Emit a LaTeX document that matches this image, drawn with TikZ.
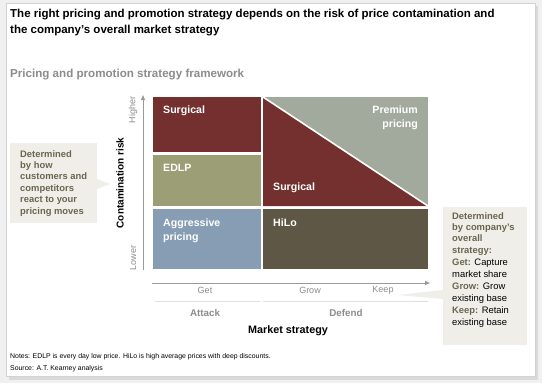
\documentclass[tikz,border=0pt]{standalone}
\usepackage{fontspec}
\setmainfont{Liberation Sans}
\usetikzlibrary{arrows.meta}
\definecolor{cred}{HTML}{73302F}
\definecolor{colive}{HTML}{9C9E76}
\definecolor{cblue}{HTML}{869DB4}
\definecolor{cbrown}{HTML}{5F5746}
\definecolor{cgreen}{HTML}{A2AA9D}
\definecolor{cbeige}{HTML}{EFEEE9}
\definecolor{cnote}{HTML}{6B6550}
\definecolor{caxis}{HTML}{9A9A9A}
\definecolor{cgraytxt}{HTML}{8C8C8C}
\tikzset{
  celltxt/.style={text=white,font=\bfseries\fontsize{10.6}{13.5}\selectfont,anchor=north west,inner sep=0pt,align=left},
  axlabel/.style={text=cgraytxt,font=\fontsize{9}{10}\selectfont,inner sep=0pt},
  grouplabel/.style={text=cgraytxt,font=\bfseries\fontsize{9.8}{11}\selectfont,inner sep=0pt},
  calltxt/.style={font=\fontsize{9.4}{11.4}\selectfont,inner sep=0pt,anchor=north west,align=left},
  notetxt/.style={font=\fontsize{6.9}{8}\selectfont,inner sep=0pt,anchor=west},
}
\begin{document}
\begin{tikzpicture}[x=1pt,y=-1pt]
\useasboundingbox (0,0) rectangle (542,383);
\fill[gray!12] (0,0) rectangle (542,383);
\fill[gray!30] (9,6) rectangle (538,380);
\fill[white,draw=gray!35,line width=0.6pt] (6,3) rectangle (535,376);
% title
\node[anchor=north west,inner sep=0pt,align=left,font=\bfseries\fontsize{11.5}{16}\selectfont] (title) at (10,9)
 {The right pricing and promotion strategy depends on the risk of price contamination and\\the company’s overall market strategy};
\node[anchor=west,inner sep=0pt,text=cgraytxt,font=\bfseries\fontsize{11.6}{13}\selectfont] (sub) at (10,75) {Pricing and promotion strategy framework};
% cells
\fill[cred] (153,97) rectangle (261,152);
\fill[colive] (153,155) rectangle (261,206);
\fill[cblue] (153,209) rectangle (261,269);
\fill[cgreen] (263,97) rectangle (428,206);
\fill[cred] (263,97) -- (428,206) -- (263,206) -- cycle;
\draw[white,line width=1.6pt] (263,97) -- (428,206);
\fill[cbrown] (263,209) rectangle (428,269);
\node[celltxt] (s1) at (163,106) {Surgical};
\node[celltxt] (edlp) at (163,164) {EDLP};
\node[celltxt] (aggr) at (163,219) {Aggressive\\pricing};
\node[celltxt] (hilo) at (273,219) {HiLo};
\node[celltxt] (s2) at (273,183) {Surgical};
\node[celltxt,anchor=north east,align=right] (prem) at (418,106) {Premium\\pricing};
% y axis
\coordinate (ya) at (143,270);
\coordinate (yb) at (143,95);
\draw[caxis,line width=1pt,-{Triangle[length=5pt,width=4pt]}] (ya) -- (yb);
\node[axlabel,rotate=90] (hi) at (133,110) {Higher};
\node[axlabel,rotate=90] (lo) at (133,258) {Lower};
\node[inner sep=0pt,rotate=90,font=\bfseries\fontsize{10}{11}\selectfont] (cr) at (120,183) {Contamination risk};
% left callout
\fill[cbeige] (10,143) rectangle (97,223);
\fill[cbeige] (97,179) -- (110,184) -- (97,189) -- cycle;
\node[calltxt,text=cnote,font=\bfseries\fontsize{9.4}{11.4}\selectfont] (lc) at (20,150) {Determined\\by how\\customers and\\competitors\\react to your\\pricing moves};
% x axis
\coordinate (xa) at (152,283);
\coordinate (xb) at (430,283);
\draw[caxis,line width=1pt,-{Triangle[length=5pt,width=4pt]}] (xa) -- (xb);
\node[axlabel] (get) at (205,290) {Get};
\node[axlabel] (grow) at (310,290) {Grow};
\node[axlabel] (keep) at (383,290) {Keep};
\draw[gray!25,line width=0.8pt] (155,301) -- (260,301);
\draw[gray!25,line width=0.8pt] (263,301) -- (428,301);
\node[grouplabel] (att) at (205,313) {Attack};
\node[grouplabel] (def) at (346,313) {Defend};
\node[inner sep=0pt,font=\bfseries\fontsize{10.8}{12}\selectfont] (ms) at (288,331) {Market strategy};
% right callout
\fill[cbeige] (443,207) rectangle (527,345);
\fill[cbeige] (443,290) -- (398,295) -- (443,299) -- cycle;
\node[calltxt] (rc) at (452,212) {\textcolor{cnote}{\bfseries Determined}\\\textcolor{cnote}{\bfseries by company’s}\\\textcolor{cnote}{\bfseries overall}\\\textcolor{cnote}{\bfseries strategy:}\\[1.2pt]
\textcolor{cnote}{\bfseries Get:} Capture\\market share\\[1.2pt]
\textcolor{cnote}{\bfseries Grow:} Grow\\existing base\\[1.2pt]
\textcolor{cnote}{\bfseries Keep:} Retain\\existing base};
% notes
\node[notetxt] (n1) at (10,357) {Notes: EDLP is every day low price. HiLo is high average prices with deep discounts.};
\node[notetxt] (n2) at (10,369) {Source: A.T. Kearney analysis};
\end{tikzpicture}
\end{document}
